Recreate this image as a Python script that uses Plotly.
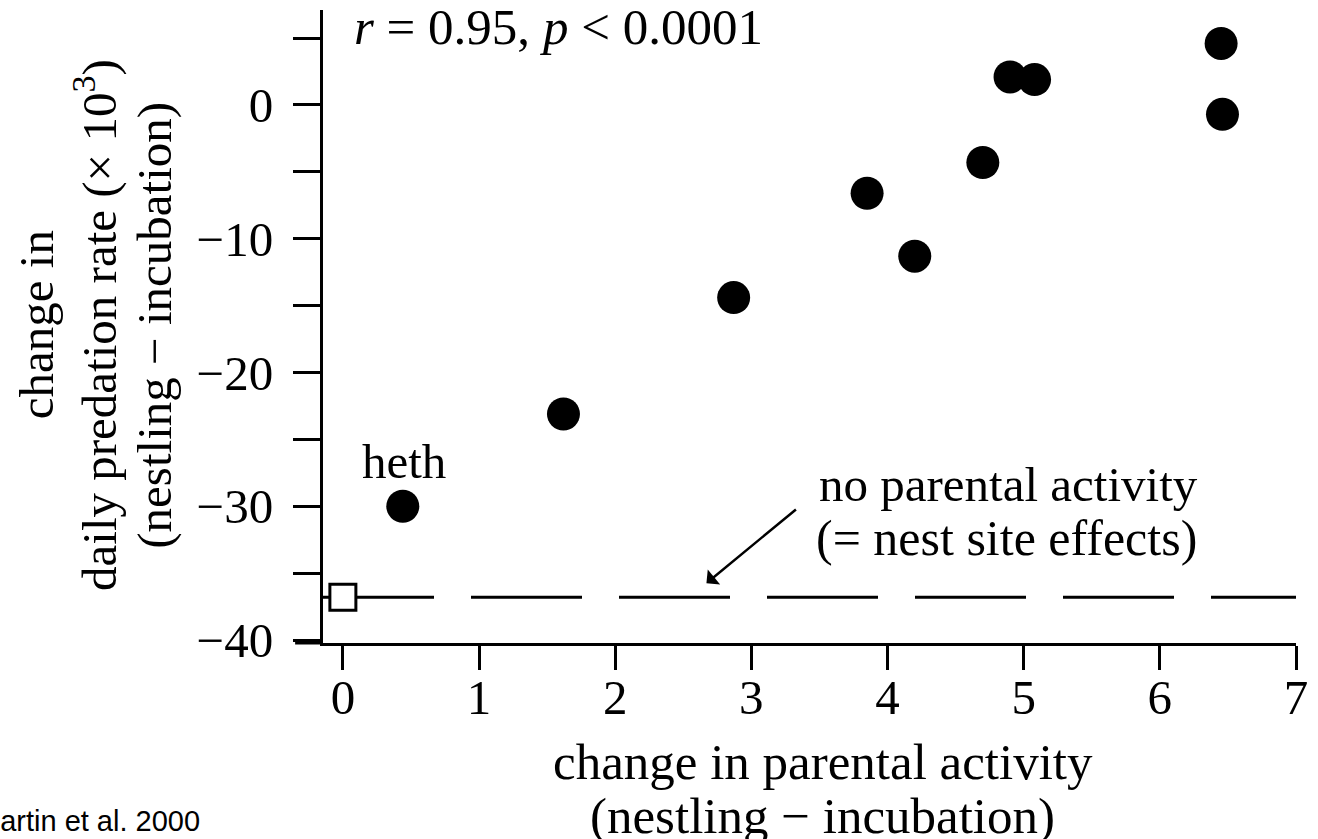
import plotly.graph_objects as go

# ---- data ----
activity_change = [0.44, 1.62, 2.87, 3.85, 4.20, 4.70, 4.90, 5.08, 6.45, 6.46]
predation_change = [-30.0, -23.1, -14.4, -6.6, -11.3, -4.3, 2.1, 1.9, 4.6, -0.7]
no_parent_x = [0.0]
no_parent_y = [-36.8]
x_ticks = [0, 1, 2, 3, 4, 5, 6, 7]
y_ticks = [-40, -35, -30, -25, -20, -15, -10, -5, 0, 5]
y_ticktext = ["−40", "", "−30", "", "−20", "", "−10", "", "0", ""]

X_RANGE = [-0.146, 7.0]
Y_RANGE = [-40.22, 7.10]

SERIF = "Liberation Serif"
FS = 49

# figure geometry (pixels)
W, H = 1318, 839
ML, MR, MT, MB = 323, 18, 10, 196
PW, PH = W - ML - MR, H - MT - MB


def px(x):
    return (x - ML) / PW


def py(y):
    return (H - MB - y) / PH


fig = go.Figure()

# reference dashed line at the "no parental activity" level
fig.add_trace(go.Scatter(
    x=[X_RANGE[0], X_RANGE[1]], y=[no_parent_y[0], no_parent_y[0]],
    mode="lines", line=dict(color="black", width=3, dash="111px,37px"),
    hoverinfo="skip", showlegend=False, cliponaxis=False))

fig.add_trace(go.Scatter(
    x=no_parent_x, y=no_parent_y, mode="markers",
    marker=dict(symbol="square", size=26, color="white",
                line=dict(color="black", width=3)),
    showlegend=False, cliponaxis=False))

fig.add_trace(go.Scatter(
    x=activity_change, y=predation_change, mode="markers",
    marker=dict(symbol="circle", size=33, color="black", line=dict(width=0)),
    showlegend=False, cliponaxis=False))

annotations = []


def txt(text, x, y, size=FS, angle=0, family=SERIF, xanchor="center"):
    annotations.append(dict(
        text=text, x=px(x), y=py(y), xref="paper", yref="paper",
        showarrow=False, xanchor=xanchor, yanchor="middle",
        textangle=angle, font=dict(family=family, size=size, color="black")))


# y-axis title (three lines)
txt("change in", 35, 325, angle=-90)
txt("daily predation rate (× 10<sup>3</sup>)", 94, 325, angle=-90)
txt("(nestling − incubation)", 153, 325, angle=-90)

# x-axis title (two lines)
txt("change in parental activity", 825, 762, size=51)
txt("(nestling − incubation)", 825, 816, size=51)

# statistics
txt("<i>r</i> = 0.95, <i>p</i> &lt; 0.0001", 352, 27, size=51, xanchor="left")

# labels
txt("heth", 404, 461)
txt("no parental activity", 1011, 484)
txt("(= nest site effects)", 1009, 538, size=50)

# source
txt("Martin et al. 2000", 202, 821, size=29, family="Liberation Sans", xanchor="right")

# arrow
annotations.append(dict(
    x=2.67, y=-35.75, xref="x", yref="y", ax=91, ay=-75,
    showarrow=True, arrowhead=1, arrowsize=1.3, arrowwidth=2.5,
    arrowcolor="black", text=""))

fig.update_layout(
    width=W, height=H,
    margin=dict(l=ML, r=MR, t=MT, b=MB, pad=0),
    paper_bgcolor="white", plot_bgcolor="white",
    annotations=annotations,
    shapes=[dict(type="line", xref="paper", yref="paper",
                 x0=-28 / PW, x1=0, y0=0, y1=0,
                 line=dict(color="black", width=3))],
    xaxis=dict(range=X_RANGE, tickvals=x_ticks, ticktext=[str(v) for v in x_ticks],
               showline=True, linecolor="black", linewidth=3,
               ticks="outside", ticklen=24, tickwidth=3, tickcolor="black",
               ticklabelstandoff=-15,
               showgrid=False, zeroline=False,
               tickfont=dict(family=SERIF, size=FS, color="black")),
    yaxis=dict(range=Y_RANGE, tickvals=y_ticks, ticktext=y_ticktext,
               showline=True, linecolor="black", linewidth=3,
               ticks="outside", ticklen=27, tickwidth=3, tickcolor="black",
               ticklabelstandoff=10,
               showgrid=False, zeroline=False,
               tickfont=dict(family=SERIF, size=FS, color="black")),
    showlegend=False,
)

fig.write_html("out.html")
